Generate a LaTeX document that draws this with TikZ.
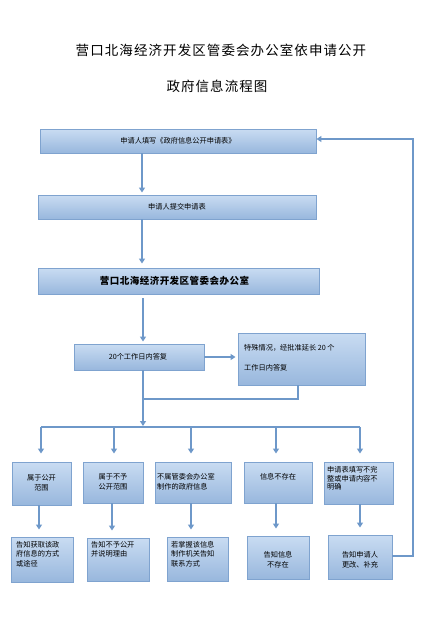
\documentclass[tikz,border=0pt]{standalone}
\usepackage{fontspec}
\setmainfont{Noto Sans CJK SC}
\usetikzlibrary{arrows.meta}
\definecolor{linec}{HTML}{6E98C9}
\definecolor{boxtop}{HTML}{C9DCF2}
\definecolor{boxbot}{HTML}{98B7DD}
\definecolor{boxdraw}{HTML}{7FA3CF}
\tikzset{
  box/.style={draw=boxdraw, line width=0.9pt, top color=boxtop, bottom color=boxbot, inner sep=0pt},
  txt/.style={inner sep=0pt, text=black, font=\fontsize{7.2}{10}\selectfont},
  conn/.style={draw=linec, line width=1.8pt},
  arr/.style={conn, -{Triangle[width=6pt,length=5pt]}},
}
\begin{document}
\begin{tikzpicture}[x=1pt,y=-1pt]
\useasboundingbox (0,0) rectangle (438,619);
% title
\node[inner sep=0pt, font=\fontsize{13.5}{16}\selectfont\addfontfeature{LetterSpace=8}] (t1) at (221,50) {营口北海经济开发区管委会办公室依申请公开};
\node[inner sep=0pt, font=\fontsize{13.5}{16}\selectfont\addfontfeature{LetterSpace=8}] (t2) at (217,86) {政府信息流程图};
% main boxes
\node[box, minimum width=276pt, minimum height=24pt] (b1) at (178,141) {};
\node[txt] (b1t) at (178,141) {申请人填写《政府信息公开申请表》};
\node[box, minimum width=278pt, minimum height=24pt] (b2) at (177,207) {};
\node[txt] (b2t) at (177,207) {申请人提交申请表};
\node[box, minimum width=281pt, minimum height=26pt] (b3) at (178.5,281) {};
\node[txt, font=\fontsize{9.5}{12}\selectfont\bfseries\addfontfeature{LetterSpace=5}] (b3t) at (174.5,281) {营口北海经济开发区管委会办公室};
\node[box, minimum width=130pt, minimum height=26pt] (b4) at (139,357) {};
\node[txt] (b4t) at (138,357) {20个工作日内答复};
\node[box, minimum width=127pt, minimum height=52pt] (b5) at (301.5,359) {};
\node[txt, anchor=west, align=left, font=\fontsize{7.2}{20}\selectfont] (b5t) at (244,358) {特殊情况，经批准延长 20 个\\工作日内答复};
% row 1
\node[box, minimum width=59pt, minimum height=43pt] (r1) at (41.5,483.5) {};
\node[txt, align=center, anchor=north] (r1t) at (41.5,474) {属于公开\\范围};
\node[box, minimum width=60pt, minimum height=41pt] (r2) at (113,482.5) {};
\node[txt, align=center, anchor=north] (r2t) at (113,474) {属于不予\\公开范围};
\node[box, minimum width=76pt, minimum height=41pt] (r3) at (193,482.5) {};
\node[txt, align=left, anchor=north west] (r3t) at (157,473) {不属管委会办公室\\制作的政府信息};
\node[box, minimum width=68pt, minimum height=41pt] (r4) at (278,482.5) {};
\node[txt, align=center, anchor=north] (r4t) at (278,473) {信息不存在};
\node[box, minimum width=69pt, minimum height=42pt] (r5) at (358.5,483) {};
\node[txt, align=left, anchor=north west, font=\fontsize{7.2}{8.8}\selectfont] (r5t) at (327,466) {申请表填写不完\\整或申请内容不\\明确};
% row 2
\node[box, minimum width=62pt, minimum height=45pt] (c1) at (42,559.5) {};
\node[txt, align=left, anchor=north west, font=\fontsize{7.2}{9.6}\selectfont] (c1t) at (16,541) {告知获取该政\\府信息的方式\\或途径};
\node[box, minimum width=62pt, minimum height=43pt] (c2) at (118,559.5) {};
\node[txt, align=left, anchor=north west, font=\fontsize{7.2}{9.6}\selectfont] (c2t) at (91,541) {告知不予公开\\并说明理由};
\node[box, minimum width=61pt, minimum height=44pt] (c3) at (197.5,559) {};
\node[txt, align=left, anchor=north west, font=\fontsize{7.2}{9.6}\selectfont] (c3t) at (171,541) {若掌握该信息\\制作机关告知\\联系方式};
\node[box, minimum width=62pt, minimum height=43pt] (c4) at (278,557.5) {};
\node[txt, align=center, font=\fontsize{7.2}{9.6}\selectfont] (c4t) at (278,560) {告知信息\\不存在};
\node[box, minimum width=64pt, minimum height=44pt] (c5) at (360,557) {};
\node[txt, align=center, font=\fontsize{7.2}{9.6}\selectfont] (c5t) at (360,560) {告知申请人\\更改、补充};
% helper coordinates
\coordinate (xa) at (142,0);
\coordinate (xb) at (143,0);
\coordinate (j1) at (298,399);
\coordinate (j2) at (143,399);
\coordinate (hl) at (41,427);
\coordinate (hr) at (360,427);
\coordinate (hm) at (143,427);
\coordinate (f1) at (413,556);
\coordinate (f2) at (413,139);
% connectors
\draw[arr, shorten >=2pt] (b1.south -| xa) -- (b2.north -| xa);
\draw[arr, shorten >=4pt] (b2.south -| xa) -- (b3.north -| xa);
\draw[arr, shorten <=4pt, shorten >=2pt] (b3.south -| xb) -- (b4.north -| xb);
\draw[arr, shorten >=2pt] (b4.east) -- (b4.east -| b5.west);
\draw[conn] (b5.south -| j1) -- (j1) -- (j2);
\draw[arr, shorten >=1pt] (b4.south -| xb) -- (hm);
\draw[conn] (hl) -- (hr);
\foreach \x/\n in {41/r1,114/r2,191/r3,276/r4,360/r5}{
  \draw[arr, shorten >=8pt] (\x,427) -- (\n.north -| \x,0);
}
\foreach \x/\a/\b in {39/r1/c1,112/r2/c2,191/r3/c3,276/r4/c4,360/r5/c5}{
  \draw[arr, shorten >=7pt] (\a.south -| \x,0) -- (\b.north -| \x,0);
}
\draw[arr] (c5.east |- f1) -- (f1) -- (f2) -- (b1.east |- f2);
\end{tikzpicture}
\end{document}
